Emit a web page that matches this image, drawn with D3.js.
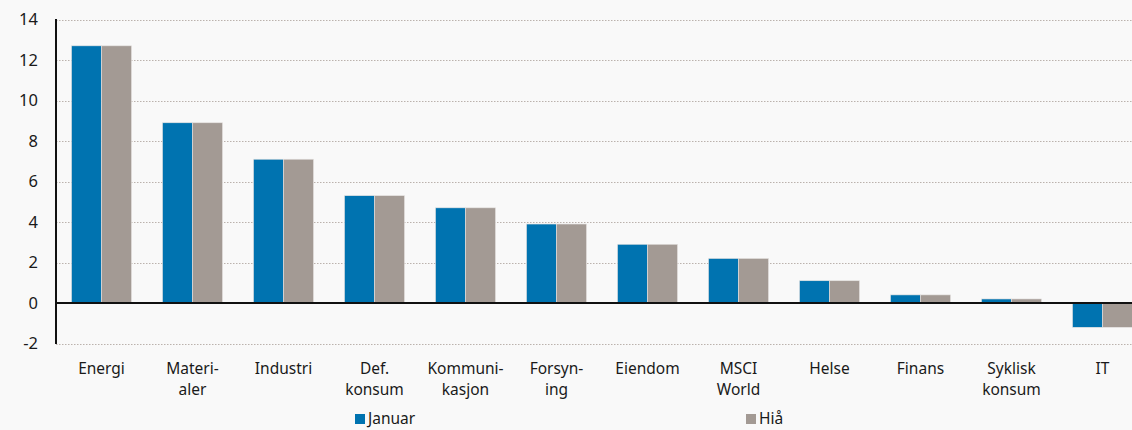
<!DOCTYPE html>
<html>
<head>
<meta charset="utf-8">
<script src="https://cdn.jsdelivr.net/npm/d3@7"></script>
<style>
  html, body { margin: 0; padding: 0; background: #f9f9f9; overflow: hidden; }
  svg { display: block; font-family: "Noto Sans", "DejaVu Sans", sans-serif; }
</style>
</head>
<body>
<div id="chart"></div>
<script>
// kategorier (to linjer der teksten er delt)
const categories = ["Energi", "Materi-|aler", "Industri", "Def.|konsum", "Kommuni-|kasjon",
  "Forsyn-|ing", "Eiendom", "MSCI|World", "Helse", "Finans", "Syklisk|konsum", "IT"];
const januar = [12.7, 8.9, 7.1, 5.3, 4.7, 3.9, 2.9, 2.2, 1.1, 0.4, 0.2, -1.2];
const hia = [12.7, 8.9, 7.1, 5.3, 4.7, 3.9, 2.9, 2.2, 1.1, 0.4, 0.2, -1.2];
const seriesNames = ["Januar", "Hiå"];
const colors = ["#0073b0", "#a39a94"];
const yTicks = [-2, 0, 2, 4, 6, 8, 10, 12, 14];

const width = 1132, height = 430;
const mLeft = 56, mTop = 19.5, mBottom = 343.5;

const svg = d3.select("#chart").append("svg")
    .attr("width", width)
    .attr("height", height);

// 91 px per gruppe, 60 px søyler; siste gruppe går litt utenfor bildet
const x = d3.scaleBand()
    .domain(categories)
    .range([mLeft, mLeft + 12 * 91])
    .paddingInner(31 / 91)
    .paddingOuter(15.5 / 91);

const x1 = d3.scaleBand().domain(seriesNames).range([0, x.bandwidth()]);

const y = d3.scaleLinear().domain([-2, 14]).range([mBottom, mTop]);

// rutenett
svg.selectAll(".grid")
    .data(yTicks.filter(d => d !== 0))
    .enter()
    .append("line")
    .attr("x1", mLeft)
    .attr("x2", width)
    .attr("y1", d => Math.round(y(d)) + 0.5)
    .attr("y2", d => Math.round(y(d)) + 0.5)
    .attr("stroke", "#bbb2ad")
    .attr("stroke-dasharray", "1.5,1.5");

// søyler
[januar, hia].forEach((vals, s) => {
  svg.selectAll(".bar" + s)
      .data(vals)
      .enter()
      .append("rect")
      .attr("x", (d, i) => x(categories[i]) + x1(seriesNames[s]))
      .attr("y", d => y(Math.max(0, d)))
      .attr("width", x1.bandwidth())
      .attr("height", d => Math.abs(y(d) - y(0)))
      .attr("fill", colors[s])
      .attr("stroke", "#e6e3e1")
      .attr("stroke-width", 0.6);
});

// y-akse
const yAxis = d3.axisLeft(y).tickValues(yTicks).tickSize(0).tickPadding(18)
    .tickFormat(d => String(d));
const gy = svg.append("g").attr("transform", `translate(${mLeft},0)`).call(yAxis);
gy.select(".domain").remove();
gy.selectAll("text")
    .attr("font-size", 16.5)
    .attr("fill", "#1a1a1a")
    .attr("font-family", "Noto Sans, sans-serif");

svg.append("line")
    .attr("x1", mLeft).attr("x2", mLeft)
    .attr("y1", mTop - 0.5).attr("y2", mBottom + 0.5)
    .attr("stroke", "#111").attr("stroke-width", 2);

// nullinje
svg.append("line")
    .attr("x1", mLeft - 1).attr("x2", width)
    .attr("y1", y(0)).attr("y2", y(0))
    .attr("stroke", "#111").attr("stroke-width", 2);

// kategorietiketter
const labels = svg.selectAll(".cat")
    .data(categories)
    .enter()
    .append("text")
    .attr("text-anchor", "middle")
    .attr("font-size", 15.5)
    .attr("fill", "#1a1a1a")
    .attr("y", 374);
labels.each(function(d) {
  const parts = d.split("|");
  const t = d3.select(this);
  parts.forEach((p, j) => {
    t.append("tspan")
        .attr("x", x(d) + x.bandwidth() / 2)
        .attr("dy", j === 0 ? 0 : 21)
        .text(p);
  });
});

// forklaring
const legendX = [355, 746];
seriesNames.forEach((name, s) => {
  svg.append("rect")
      .attr("x", legendX[s]).attr("y", 414)
      .attr("width", 10).attr("height", 10)
      .attr("fill", colors[s]);
  svg.append("text")
      .attr("x", legendX[s] + 13).attr("y", 424)
      .attr("font-size", 15.5)
      .attr("fill", "#1a1a1a")
      .text(name);
});
</script>
</body>
</html>
